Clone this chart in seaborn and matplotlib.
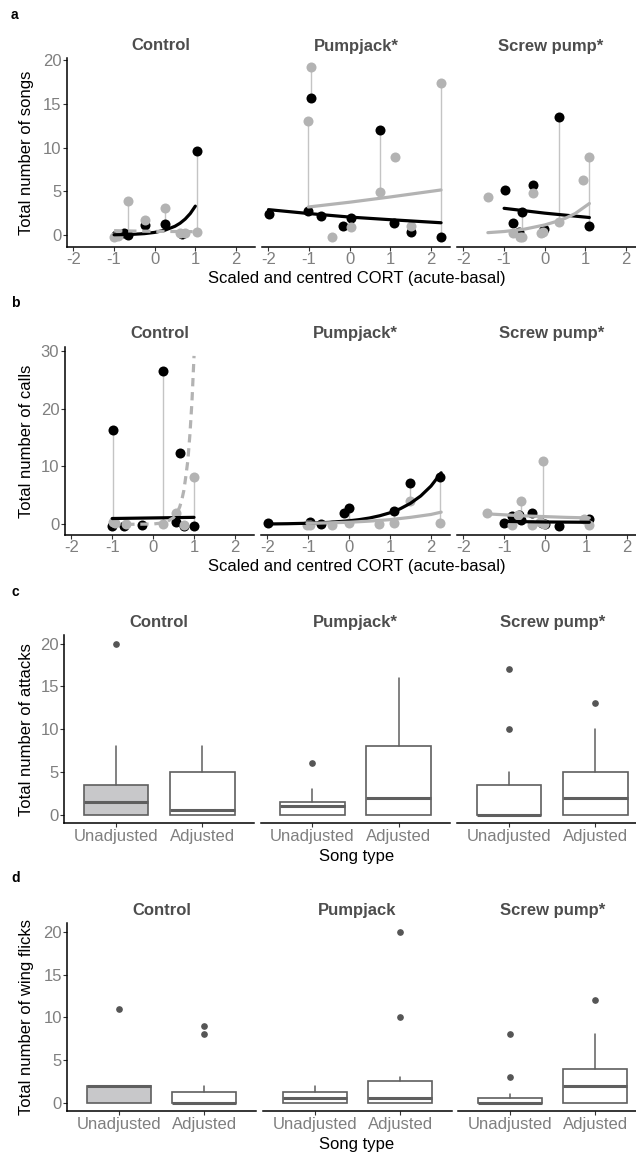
import matplotlib
matplotlib.use("Agg")
import matplotlib.pyplot as plt
import seaborn as sns
import pandas as pd

sns.set_theme(style="white")
plt.rcParams['font.family'] = ['Liberation Sans', 'DejaVu Sans']

# ---------------- DATA ----------------
facets_ab = ["Control", "Pumpjack*", "Screw pump*"]
facets_c = ["Control", "Pumpjack*", "Screw pump*"]
facets_d = ["Control", "Pumpjack", "Screw pump*"]
song_types = ["Unadjusted", "Adjusted"]
xticks_cort = [-2, -1, 0, 1, 2]

# Panel a: songs  (black = one song type, grey = other)
a_black_x = [[-0.95, -0.75, -0.65, -0.25, 0.26, 0.68, 1.03],
             [-1.98, -1.02, -0.95, -0.71, -0.16, 0.02, 0.75, 1.09, 1.52, 2.24],
             [-0.98, -0.79, -0.64, -0.56, -0.30, -0.01, 0.34, 1.10]]
a_black_y = [[0.0, 0.2, -0.05, 1.1, 1.25, 0.1, 9.65],
             [2.35, 2.8, 15.7, 2.2, 1.07, 2.0, 12.0, 1.4, 0.3, -0.27],
             [5.2, 1.33, 0.4, 2.6, 5.7, 0.65, 13.45, 1.03]]
a_grey_x = [[-1.0, -0.9, -0.66, -0.25, 0.26, 0.62, 0.75, 1.03],
            [-0.96, -1.02, -0.44, 0.02, 0.75, 1.12, 1.52, 2.24],
            [-1.39, -0.79, -0.62, -0.55, -0.30, -0.09, -0.03, 0.34, 0.95, 1.10]]
a_grey_y = [[-0.25, -0.1, 3.85, 1.75, 3.05, 0.2, 0.2, 0.35],
            [19.2, 13.0, -0.2, 0.95, 4.95, 8.95, 1.07, 17.4],
            [4.3, 0.27, -0.2, -0.25, 4.85, 0.27, 0.35, 1.45, 6.3, 8.95]]
a_seg_x = [[-0.66, -0.25, 0.26, 1.03],
           [-0.96, -1.02, 0.02, 0.75, 1.52, 2.24],
           [-0.56, -0.30, 0.34, 1.10]]
a_seg_lo = [[0.0, 1.1, 1.25, 0.35],
            [15.7, 2.8, 0.95, 4.95, 0.3, -0.27],
            [-0.2, 4.85, 1.45, 1.03]]
a_seg_hi = [[3.85, 1.75, 3.05, 9.65],
            [19.2, 13.0, 2.0, 12.0, 1.07, 17.4],
            [2.6, 5.7, 13.45, 8.95]]
a_fitb_x = [[-1.0, -0.75, -0.5, -0.25, 0.0, 0.25, 0.5, 0.625, 0.75, 0.875, 1.0],
            [-2.0, -1.0, 0.0, 1.0, 2.25],
            [-1.0, 0.0, 1.1]]
a_fitb_y = [[0.03, 0.05, 0.09, 0.16, 0.3, 0.55, 1.0, 1.35, 1.82, 2.45, 3.3],
            [2.9, 2.45, 2.05, 1.75, 1.4],
            [3.05, 2.5, 2.0]]
a_fitg_x = [[-1.0, -0.5, 0.0, 0.5, 1.0],
            [-1.02, 0.0, 1.0, 2.25],
            [-1.4, -1.0, -0.5, 0.0, 0.25, 0.5, 0.75, 1.1]]
a_fitg_y = [[0.5, 0.45, 0.42, 0.4, 0.38],
            [3.2, 3.75, 4.35, 5.15],
            [0.27, 0.4, 0.67, 1.15, 1.5, 1.9, 2.45, 3.6]]
a_fitg_dashed = [True, False, False]
a_yticks = [0, 5, 10, 15, 20]

# Panel b: calls
b_black_x = [[-0.98, -1.0, -0.72, -0.26, 0.25, 0.55, 0.66, 0.76, 1.0],
             [-1.97, -0.95, -0.69, -0.13, 0.0, 1.09, 1.5, 2.23],
             [-1.0, -0.81, -0.64, -0.58, -0.32, -0.08, 0.0, 0.33, 1.08]]
b_black_y = [[16.3, -0.3, -0.3, -0.1, 26.5, 0.35, 12.4, -0.3, -0.3],
             [0.28, 0.45, 0.0, 2.0, 2.75, 2.35, 7.1, 8.1],
             [0.17, 1.35, 1.6, 0.8, 1.9, 0.3, 0.05, -0.3, 0.85]]
b_grey_x = [[-0.99, -0.93, -0.67, 0.25, 0.57, 0.76, 1.0],
            [-1.03, -0.95, -0.42, 0.0, 0.74, 1.09, 1.5, 2.23],
            [-1.42, -0.8, -0.66, -0.58, -0.32, -0.12, -0.05, -0.03, 0.94, 1.08]]
b_grey_y = [[0.35, 0.2, 0.0, 0.0, 1.9, -0.1, 8.2],
            [-0.1, -0.15, -0.2, 0.17, 0.0, 0.15, 4.1, 0.28],
            [1.95, -0.1, 1.6, 4.1, -0.2, 0.4, 11.0, 0.0, 0.95, -0.1]]
b_seg_x = [[-0.98, 0.25, 1.0],
           [0.0, 1.09, 1.5, 2.23],
           [-0.05, -0.58]]
b_seg_lo = [[0.35, 0.0, -0.3],
            [0.17, 0.15, 4.1, 0.28],
            [0.05, 0.8]]
b_seg_hi = [[16.3, 26.5, 8.2],
            [2.75, 2.35, 7.1, 8.1],
            [11.0, 4.1]]
b_fitb_x = [[-1.0, 0.0, 1.0],
            [-2.0, -1.5, -1.0, -0.5, 0.0, 0.25, 0.5, 0.75, 1.0, 1.25, 1.5, 1.75, 2.0, 2.25],
            [-1.0, 0.0, 1.08]]
b_fitb_y = [[1.0, 1.1, 1.2],
            [0.05, 0.1, 0.18, 0.33, 0.6, 0.81, 1.09, 1.48, 1.99, 2.69, 3.63, 4.9, 6.6, 8.9],
            [0.5, 0.4, 0.35]]
b_fitg_x = [[-1.0, -0.5, 0.0, 0.3, 0.5, 0.6, 0.65, 0.7, 0.75, 0.8, 0.85, 0.9, 0.95, 1.0],
            [-1.03, 0.0, 0.5, 1.0, 1.5, 2.0, 2.25],
            [-1.42, -0.5, 0.5, 1.08]]
b_fitg_y = [[0.0, 0.002, 0.05, 0.3, 1.15, 2.2, 3.0, 4.2, 5.8, 8.3, 11.1, 15.6, 21.3, 29.1],
            [0.15, 0.35, 0.55, 0.8, 1.2, 1.7, 2.1],
            [1.8, 1.45, 1.2, 1.1]]
b_fitg_dashed = [True, False, False]
b_yticks = [0, 10, 20, 30]

# Panel c: attacks (box stats per facet: [Unadjusted, Adjusted])
c_whislo = [[0, 0], [0, 0], [0, 0]]
c_q1 = [[0, 0], [0, 0], [0, 0]]
c_med = [[1.5, 0.5], [1.0, 2.0], [0.0, 2.0]]
c_q3 = [[3.5, 5.0], [1.5, 8.0], [3.5, 5.0]]
c_whishi = [[8, 8], [3, 16], [5, 10]]
c_fliers = [[[20], []], [[6], []], [[10, 17], [13]]]

# Panel d: wing flicks
d_whislo = [[0, 0], [0, 0], [0, 0]]
d_q1 = [[0, 0], [0, 0], [0, 0]]
d_med = [[2.0, 0.0], [0.5, 0.5], [0.0, 2.0]]
d_q3 = [[2.0, 1.25], [1.25, 2.5], [0.5, 4.0]]
d_whishi = [[2, 2], [2, 3], [1, 8]]
d_fliers = [[[11], [8, 9]], [[], [10, 20]], [[3, 8], [12]]]
cd_yticks = [0, 5, 10, 15, 20]

# ---------------- STYLE / LAYOUT ----------------
W, H = 636, 1153
fig = plt.figure(figsize=(W / 100, H / 100), dpi=100)

BLACK = "#000000"
GREY = "#b3b3b3"
SEG = "#c4c4c4"
TICKC = "#7f7f7f"
STRIP = "#4d4d4d"
BOXE = "#5f5f5f"
FS = 12

def add_ax(x0, width, top, bot):
    return fig.add_axes([x0 / W, 1 - bot / H, width / W, (bot - top) / H])

def style_ax(ax, first):
    for s in ["top", "right"]:
        ax.spines[s].set_visible(False)
    ax.spines["bottom"].set_color("black")
    ax.spines["bottom"].set_linewidth(1.1)
    if first:
        ax.spines["left"].set_color("black")
        ax.spines["left"].set_linewidth(1.1)
    else:
        ax.spines["left"].set_visible(False)
    ax.tick_params(axis="both", which="both", length=2.7, width=0.8,
                   color="#333333", labelcolor=TICKC, labelsize=FS, pad=1.2,
                   bottom=True, left=first, labelleft=first)
    ax.set_xlabel("")
    ax.set_ylabel("")
    ax.grid(False)
    ax.set_facecolor("none")

rows = {
    "a": dict(lefts=[67, 262, 457], width=188, top=58, bot=247,
              ylim=(-1.37, 20.23), strip=46, xt=278, letter=15,
              ylabel="Total number of songs"),
    "b": dict(lefts=[64.7, 260.7, 456.7], width=189.5, top=346.7, bot=535,
              ylim=(-1.85, 30.69), strip=334, xt=566.7, letter=302.7,
              ylabel="Total number of calls"),
    "c": dict(lefts=[64.3, 260.7, 457.3], width=189.7, top=635, bot=823.3,
              ylim=(-1, 21), strip=622.3, xt=856, letter=591.7,
              ylabel="Total number of attacks"),
    "d": dict(lefts=[67.3, 263.3, 458.3], width=188.3, top=923.3, bot=1111.3,
              ylim=(-1, 21), strip=910.7, xt=1144, letter=878.3,
              ylabel="Total number of wing flicks"),
}

def scatter_row(key, facets, bx, by, gx, gy, sx, slo, shi, fbx, fby, fgx, fgy, fgd, yticks):
    r = rows[key]
    for i in range(3):
        ax = add_ax(r["lefts"][i], r["width"], r["top"], r["bot"])
        ax.vlines(sx[i], slo[i], shi[i], color=SEG, lw=1.0, zorder=1)
        dfb = pd.DataFrame({"x": bx[i], "y": by[i]})
        dfg = pd.DataFrame({"x": gx[i], "y": gy[i]})
        sns.scatterplot(data=dfb, x="x", y="y", ax=ax, color=BLACK, s=52,
                        linewidth=0, zorder=2)
        sns.scatterplot(data=dfg, x="x", y="y", ax=ax, color=GREY, s=52,
                        linewidth=0, zorder=3)
        sns.lineplot(x=fbx[i], y=fby[i], ax=ax, color=BLACK, lw=2.3, zorder=4,
                     estimator=None)
        sns.lineplot(x=fgx[i], y=fgy[i], ax=ax, color=GREY, lw=2.3, zorder=4,
                     estimator=None)
        if fgd[i]:
            ax.lines[-1].set_dashes((2.6, 1.8))
        ax.set_xlim(-2.16, 2.47)
        ax.set_ylim(*r["ylim"])
        ax.set_xticks(xticks_cort)
        ax.set_xticklabels([str(t) for t in xticks_cort])
        ax.set_yticks(yticks)
        ax.set_yticklabels([str(t) for t in yticks])
        style_ax(ax, i == 0)
        fig.text((r["lefts"][i] + r["width"] / 2) / W, 1 - r["strip"] / H, facets[i],
                 ha="center", va="center", fontsize=FS, fontweight="bold", color=STRIP)

def box_row(key, facets, wl, q1, med, q3, wh, fl):
    r = rows[key]
    for i in range(3):
        ax = add_ax(r["lefts"][i], r["width"], r["top"], r["bot"])
        stats = []
        for j in range(2):
            stats.append(dict(whislo=wl[i][j], q1=q1[i][j], med=med[i][j],
                              q3=q3[i][j], whishi=wh[i][j], fliers=fl[i][j],
                              label=song_types[j]))
        bp = ax.bxp(stats, positions=[0, 1], widths=0.75, patch_artist=True,
                    showcaps=False,
                    boxprops=dict(edgecolor=BOXE, linewidth=1.2),
                    medianprops=dict(color=BOXE, linewidth=2.2),
                    whiskerprops=dict(color=BOXE, linewidth=1.1),
                    flierprops=dict(marker="o", markerfacecolor="#555555",
                                    markeredgecolor="#555555", markersize=3.8))
        for j, patch in enumerate(bp["boxes"]):
            patch.set_facecolor("#c8c8ca" if (i == 0 and j == 0) else "white")
        ax.set_xlim(-0.6, 1.6)
        ax.set_ylim(*r["ylim"])
        ax.set_xticks([0, 1])
        ax.set_xticklabels(song_types)
        ax.set_yticks(cd_yticks)
        ax.set_yticklabels([str(t) for t in cd_yticks])
        style_ax(ax, i == 0)
        fig.text((r["lefts"][i] + r["width"] / 2) / W, 1 - r["strip"] / H, facets[i],
                 ha="center", va="center", fontsize=FS, fontweight="bold", color=STRIP)

scatter_row("a", facets_ab, a_black_x, a_black_y, a_grey_x, a_grey_y,
            a_seg_x, a_seg_lo, a_seg_hi, a_fitb_x, a_fitb_y, a_fitg_x, a_fitg_y,
            a_fitg_dashed, a_yticks)
scatter_row("b", facets_ab, b_black_x, b_black_y, b_grey_x, b_grey_y,
            b_seg_x, b_seg_lo, b_seg_hi, b_fitb_x, b_fitb_y, b_fitg_x, b_fitg_y,
            b_fitg_dashed, b_yticks)
box_row("c", facets_c, c_whislo, c_q1, c_med, c_q3, c_whishi, c_fliers)
box_row("d", facets_d, d_whislo, d_q1, d_med, d_q3, d_whishi, d_fliers)

xtitles = {"a": "Scaled and centred CORT (acute-basal)",
           "b": "Scaled and centred CORT (acute-basal)",
           "c": "Song type", "d": "Song type"}
for key, r in rows.items():
    fig.text(11 / W, 1 - r["letter"] / H, key, ha="left", va="center",
             fontsize=10, fontweight="bold", color="black")
    fig.text(357 / W, 1 - r["xt"] / H, xtitles[key], ha="center", va="center",
             fontsize=FS, color="black")
    fig.text(27 / W, 1 - ((r["top"] + r["bot"]) / 2) / H, r["ylabel"],
             ha="center", va="center", rotation=90, fontsize=FS, color="black")

fig.savefig("out.png", dpi=100)
